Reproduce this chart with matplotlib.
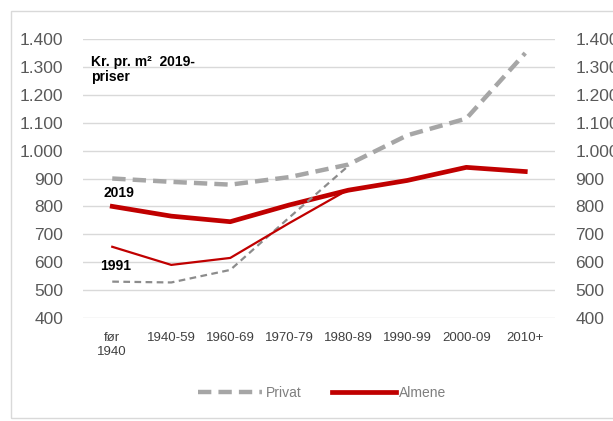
import numpy as np
import matplotlib
matplotlib.use("Agg")
import matplotlib.pyplot as plt
from matplotlib.patches import Rectangle

plt.rcParams['font.family'] = ['Liberation Sans', 'DejaVu Sans']

# Values (kr. pr. m2, 2019 prices)
categories = ["før\n1940", "1940-59", "1960-69", "1970-79", "1980-89",
              "1990-99", "2000-09", "2010+"]
privat_2019 = [900, 888, 878, 905, 950, 1055, 1115, 1350]
almene_2019 = [800, 765, 745, 805, 858, 893, 940, 925]
privat_1991 = [530, 527, 572, 760, 945]
almene_1991 = [655, 590, 615, 740, 860]
yticks = [400, 500, 600, 700, 800, 900, 1000, 1100, 1200, 1300, 1400]

gray = "#A6A6A6"
red = "#C00000"

fig = plt.figure(figsize=(6.13, 4.21), dpi=100)
ax = fig.add_axes([0.135, 0.245, 0.77, 0.662])

x = np.arange(len(categories))
ax.plot(x, privat_2019, color=gray, lw=3.2, dashes=(3, 1.6), label="Privat")
ax.plot(x, almene_2019, color=red, lw=3.4, label="Almene")
ax.plot(x[:len(privat_1991)], privat_1991, color="#8C8C8C", lw=1.6,
        dashes=(3, 2))
ax.plot(x[:len(almene_1991)], almene_1991, color=red, lw=1.6)

ax.set_xlim(-0.5, len(categories) - 0.5)
ax.set_ylim(400, 1400)
ax.set_yticks(yticks)
ax.set_yticklabels([f"{v:,}".replace(",", ".") for v in yticks])
ax.set_xticks(x)
ax.set_xticklabels(categories, fontsize=9.5, color="#404040")
ax.tick_params(axis="y", length=0, pad=14, labelsize=12.5, labelcolor="#595959")
ax.tick_params(axis="x", length=0, pad=10)
ax.grid(axis="y", color="#D9D9D9", lw=1)
ax.set_axisbelow(True)
for s in ax.spines.values():
    s.set_visible(False)

ax2 = ax.twinx()
ax2.set_ylim(400, 1400)
ax2.set_yticks(yticks)
ax2.set_yticklabels([f"{v:,}".replace(",", ".") for v in yticks])
ax2.tick_params(axis="y", length=0, pad=15, labelsize=12.5, labelcolor="#595959")
for s in ax2.spines.values():
    s.set_visible(False)

ax.text(-0.36, 1290, "Kr. pr. m²  2019-\npriser", fontsize=10,
        fontweight="bold", va="center", ha="left", linespacing=1.1)
ax.text(-0.15, 872, "2019", fontsize=10, fontweight="bold", va="top")
ax.text(-0.2, 610, "1991", fontsize=10, fontweight="bold", va="top")

fig.legend(loc="center", bbox_to_anchor=(0.526, 0.067), ncol=2, frameon=False,
           fontsize=10, handlelength=4.6, handletextpad=0.25,
           columnspacing=2.2, labelcolor="#7F7F7F")

fig.patches.append(Rectangle((11 / 613, 3 / 421), 1.2, 407 / 421,
                             transform=fig.transFigure, fill=False,
                             edgecolor="#D9D9D9", lw=1))

fig.savefig("out.png", dpi=100)
